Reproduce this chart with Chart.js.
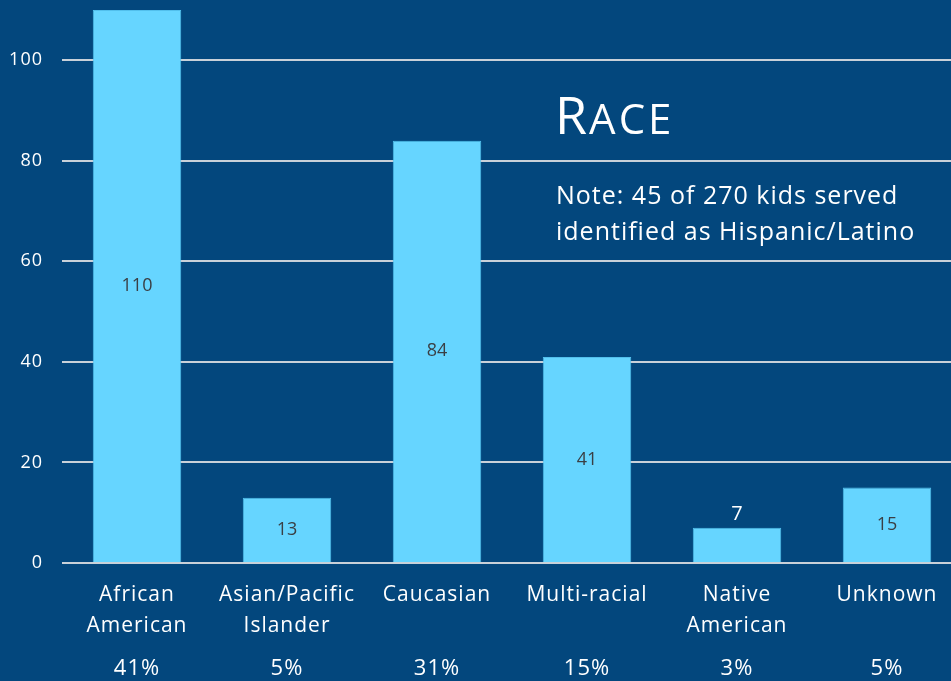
<!DOCTYPE html>
<html>
<head>
  <meta charset="UTF-8">
  <title>Race</title>
  <script src="https://cdn.jsdelivr.net/npm/chart.js"></script>
  <style>
    body {
      margin: 0;
      background-color: #03477d;
      overflow: hidden;
    }
    #wrap {
      width: 962px;
      height: 681px;
    }
  </style>
</head>
<body>

  <div id="wrap"><canvas id="raceChart" width="962" height="681"></canvas></div>

  <script>
    const categories = [['African', 'American'], ['Asian/Pacific', 'Islander'], 'Caucasian', 'Multi-racial', ['Native', 'American'], 'Unknown'];
    const counts = [110, 13, 84, 41, 7, 15];
    const percents = ['41%', '5%', '31%', '15%', '3%', '5%'];
    const yTicks = [0, 20, 40, 60, 80, 100];

    const FONT = '"Open Sans", Lato, sans-serif';

    // wider letter spacing for everything, the reference font runs wide
    const spacing = {
      id: 'spacing',
      beforeDraw(chart) {
        chart.ctx.letterSpacing = '1px';
      }
    };

    // value labels inside the bars (or above when the bar is too short)
    const valueLabels = {
      id: 'valueLabels',
      afterDatasetsDraw(chart) {
        const ctx = chart.ctx;
        const meta = chart.getDatasetMeta(0);
        ctx.save();
        ctx.letterSpacing = '0px';
        ctx.textAlign = 'center';
        ctx.textBaseline = 'middle';
        meta.data.forEach((bar, i) => {
          const h = bar.base - bar.y;
          if (h < 40) {
            ctx.font = '20px ' + FONT;
            ctx.fillStyle = '#ffffff';
            ctx.fillText(counts[i], bar.x, bar.y - 14);
          } else {
            ctx.font = '18px ' + FONT;
            ctx.fillStyle = '#3a3f44';
            ctx.fillText(counts[i], bar.x, (bar.y + bar.base) / 2);
          }
        });
        ctx.restore();
      }
    };

    // percentages under the category labels, plus the title text
    const extras = {
      id: 'extras',
      afterDraw(chart) {
        const ctx = chart.ctx;
        const x = chart.scales.x;
        ctx.save();
        ctx.fillStyle = '#ffffff';
        ctx.letterSpacing = '1px';
        ctx.font = '22px ' + FONT;
        ctx.textAlign = 'center';
        ctx.textBaseline = 'middle';
        percents.forEach((p, i) => {
          ctx.fillText(p, x.getPixelForValue(i), 669);
        });

        ctx.textAlign = 'left';
        ctx.textBaseline = 'alphabetic';
        ctx.letterSpacing = '2px';
        ctx.font = '52px ' + FONT;
        ctx.fillText('R', 555, 134);
        const w = ctx.measureText('R').width;
        ctx.font = '42px ' + FONT;
        ctx.letterSpacing = '3px';
        ctx.fillText('ACE', 555 + w, 134);

        ctx.letterSpacing = '1px';
        ctx.font = '25px ' + FONT;
        ctx.fillText('Note: 45 of 270 kids served', 556, 204);
        ctx.fillText('identified as Hispanic/Latino', 556, 240);
        ctx.restore();
      }
    };

    new Chart(document.getElementById('raceChart'), {
      type: 'bar',
      data: {
        labels: categories,
        datasets: [{
          data: counts,
          backgroundColor: '#66d5ff',
          borderColor: '#52bfec',
          borderWidth: 1,
          barPercentage: 0.59,
          categoryPercentage: 1
        }]
      },
      options: {
        responsive: false,
        animation: false,
        layout: { padding: { top: 10, right: 0, left: 0, bottom: 0 } },
        plugins: {
          legend: { display: false },
          tooltip: { enabled: false }
        },
        scales: {
          x: {
            grid: { display: false },
            border: { display: false },
            ticks: {
              color: '#ffffff',
              font: { family: FONT, size: 21, lineHeight: 1.48 },
              padding: 8,
              maxRotation: 0,
              autoSkip: false
            },
            afterFit(scale) { scale.height = 118; }
          },
          y: {
            min: 0,
            max: 110,
            border: { display: false },
            grid: { color: '#c9d1d9', lineWidth: 2, drawTicks: false },
            ticks: {
              color: '#ffffff',
              font: { family: FONT, size: 18 },
              padding: 19,
              stepSize: 20
            },
            afterBuildTicks(scale) {
              scale.ticks = yTicks.map(v => ({ value: v }));
            },
            afterFit(scale) {
              scale.width = 62;
              scale.paddingTop = 0;
              scale.paddingBottom = 0;
            }
          }
        }
      },
      plugins: [spacing, valueLabels, extras]
    });
  </script>

</body>
</html>
